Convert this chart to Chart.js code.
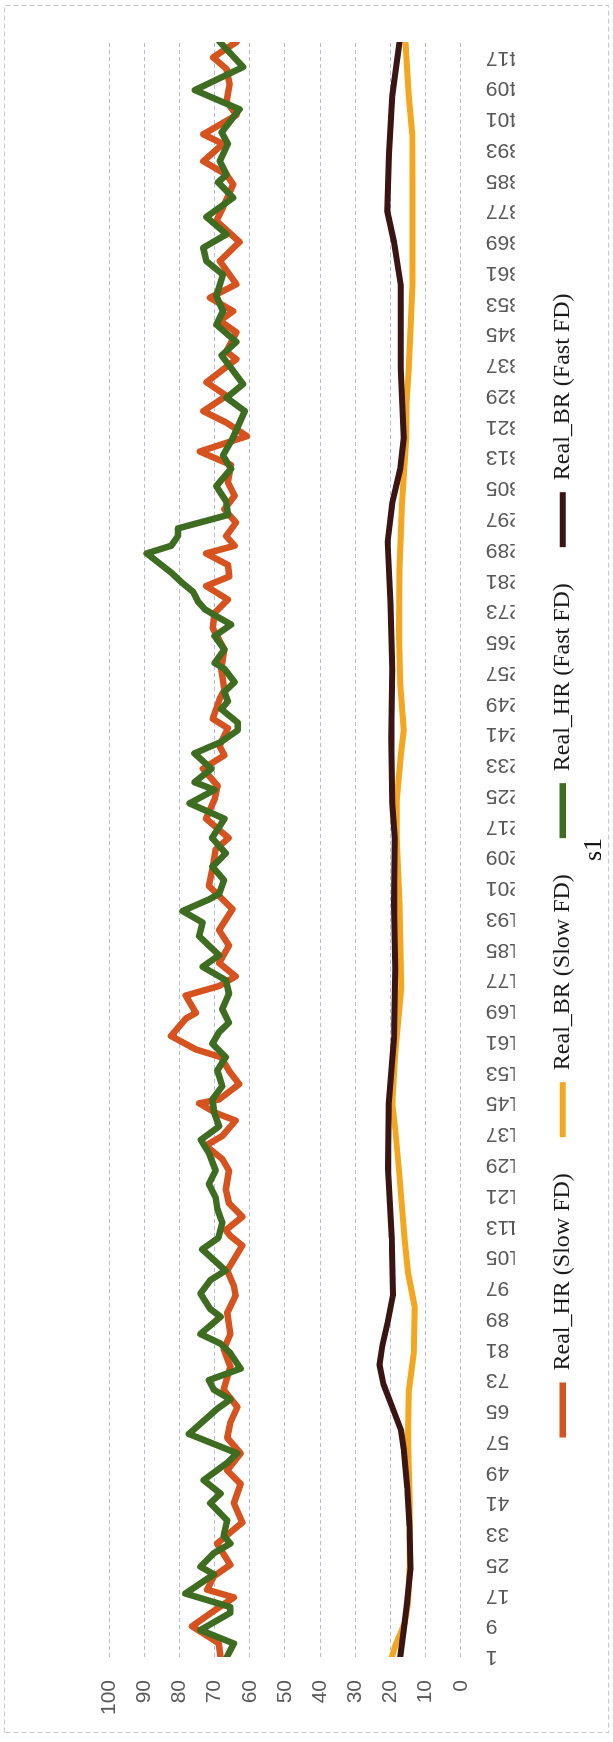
<!DOCTYPE html>
<html>
<head>
<meta charset="utf-8">
<script src="https://cdn.jsdelivr.net/npm/chart.js@4.4.1/dist/chart.umd.min.js"></script>
<style>
  html, body { margin: 0; padding: 0; background: #fff; overflow: hidden; }
  /* the chart is laid out landscape and turned a quarter-turn to stand upright on the page */
  #frame {
    position: absolute; left: 0; top: 0;
    width: 1742px; height: 613px;
    transform-origin: 0 0;
    transform: translate(0, 1742px) rotate(-90deg);
  }
  canvas { display: block; }
</style>
</head>
<body>
<div id="frame"><canvas id="c" width="1742" height="613"></canvas></div>
<script>
// sample index labels shown on the horizontal axis
const tickLabels = [1, 9, 17, 25, 33, 41, 49, 57, 65, 73, 81, 89, 97, 105, 113, 121, 129, 137, 145,
  153, 161, 169, 177, 185, 193, 201, 209, 217, 225, 233, 241, 249, 257, 265, 273, 281, 289, 297,
  305, 313, 321, 329, 337, 345, 353, 361, 369, 377, 385, 393, 401, 409, 417];

const seriesNames = ['Real_HR (Slow FD)', 'Real_BR (Slow FD)', 'Real_HR (Fast FD)', 'Real_BR (Fast FD)'];

// [sample index, value]
const hrSlow = [[1,68.3],[4.5,68.8],[6,71.2],[9,76.4],[13,70.2],[16.5,64.5],[18.5,72.1],[22,70.2],[25,65.5],
  [30.5,69.3],[36,62.1],[41,64.5],[46,62.6],[49.5,66.4],[54,62.6],[58,66.4],[62,65.5],[66,63.5],[70.5,67.4],
  [76.5,65.5],[81,67.4],[85,65.5],[90.5,66.4],[95,64.0],[97.5,64.5],[101.5,66.4],[108,62.1],[110.5,65.5],
  [112,66.8],[115.5,62.1],[119,65.9],[122.5,66.8],[127.5,65.9],[130.5,67.8],[134,72.5],[136.5,67.8],
  [140.5,64.0],[142.5,69.7],[145,74.4],[146,68.7],[150,63.0],[153.5,65.9],[157,68.2],[159,75.3],[162.5,82.4],
  [167,78.2],[168.5,75.3],[173,78.2],[175.5,68.7],[178,64.0],[181.5,68.7],[186,65.9],[190,68.7],[195.5,64.9],
  [201.5,71.6],[206,70.6],[211,69.7],[214,66.0],[219,72.4],[224,70.0],[227.5,69.1],[232,73.3],[235.5,67.2],
  [238,68.6],[242.5,66.2],[245,70.5],[250,68.6],[252.5,67.2],[258,68.1],[263,67.2],[268.5,70.5],[272.5,70.0],
  [276,66.2],[279.5,72.4],[282,65.8],[285,66.2],[288,72.4],[290,64.3],[292.5,66.7],[296,63.9],[299.5,67.2],
  [303,64.3],[306.5,66.2],[311,65.3],[314.5,74.2],[318.5,60.8],[322,66.6],[325,73.2],[329,66.6],[332.5,72.3],
  [338.5,63.8],[340.5,66.6],[345.5,63.8],[348.5,68.5],[351,64.7],[354.5,71.3],[358,63.8],[364,68.5],[369,62.9],
  [374.5,69.5],[378,67.6],[384,64.7],[386.5,66.6],[390,73.2],[394.5,67.6],[397,73.2],[402,63.8],[405.5,66.6],
  [410,65.7],[414,66.6],[417,70.4],[421,63.8]];

const brSlow = [[1,19.6],[4,18.6],[7,17.2],[10,15.9],[15,15.0],[24,14.6],[41,14.5],[58,15.0],[70,14.8],
  [80,13.4],[92,13.1],[101,15.0],[110,16.0],[128,17.6],[138,18.6],[145,19.5],[158,18.6],[175,16.9],[197,17.4],
  [214,18.2],[223,18.3],[236,17.0],[242,16.2],[254,17.2],[267,17.6],[284,17.4],[301,16.7],[318,15.5],
  [327,15.4],[336,14.8],[358,13.7],[384,13.7],[397,13.8],[407,14.8],[421,15.7]];

const hrFast = [[1,66.5],[4.5,64.5],[8,74.0],[12.5,65.5],[14,65.5],[17.5,78.3],[22.5,70.2],[24.5,74.0],
  [28,70.2],[30.5,65.5],[32.5,67.4],[36.5,66.4],[41,71.2],[43.5,68.3],[47,73.1],[51.5,66.4],[54,63.6],
  [59,77.3],[65.5,69.3],[68,65.5],[70.5,70.2],[73,71.6],[76,62.6],[80,65.5],[82.5,68.3],[85,74.0],[89.5,68.3],
  [91.5,71.2],[95.5,74.0],[99,71.2],[101.5,66.9],[107,73.5],[110,68.9],[114,67.8],[117.5,69.2],[120.5,69.7],
  [124,71.6],[127.5,69.7],[132,71.6],[135.5,73.9],[139,68.7],[142.5,70.1],[146,70.6],[149.5,67.8],
  [153.5,69.2],[157,66.8],[160.5,70.6],[163.5,68.7],[166,65.9],[169.5,67.8],[173.5,65.9],[177,66.8],
  [180.5,73.4],[183.5,68.7],[186,71.6],[188.5,74.4],[192,73.4],[195,79.1],[198,71.6],[199.5,68.7],[203,67.3],
  [206.5,70.6],[210,66.8],[214,70.7],[219,67.2],[223,77.1],[226.5,70.0],[228.5,75.7],[232,70.9],[236,75.7],
  [239,68.1],[242,63.4],[244,63.4],[247.5,68.1],[249.5,66.2],[252,67.2],[254.5,64.3],[258,67.2],[259.5,70.0],
  [263,67.2],[266.5,70.0],[269.5,65.3],[271.5,69.1],[273.5,72.8],[275.5,74.7],[278,76.1],[280.5,79.4],
  [283,82.3],[288,89.3],[290,82.3],[292.5,80.4],[294.5,80.4],[298,66.2],[301.5,66.7],[305.5,69.5],[310,65.3],
  [313.5,67.6],[318,64.8],[325,61.4],[328.5,66.6],[332,61.9],[339.5,68.0],[343,63.8],[347.5,69.5],[351,67.6],
  [355,69.5],[360.5,67.6],[364,72.3],[367.5,73.2],[371,66.6],[375.5,72.3],[380.5,64.7],[384.5,69.0],
  [386.5,66.6],[390,68.5],[394.5,66.2],[397.5,68.0],[403.5,62.9],[408.5,75.6],[414.5,61.9],[421,68.5]];

const brFast = [[1,17.2],[8,16.2],[15,15.3],[24,14.3],[35,14.6],[45,15.2],[55,16.2],[60,17.0],[66,19.5],
  [72,22.0],[77,23.1],[82,22.3],[88,20.8],[95,19.3],[110,19.6],[128,20.7],[145,20.5],[162,19.0],[180,18.6],
  [197,19.0],[214,18.8],[223,19.5],[240,19.8],[258,19.5],[275,20.0],[291,20.8],[301,19.5],[310,17.2],
  [318,16.2],[336,17.1],[358,17.1],[369,19.0],[377,20.9],[392,20.4],[407,19.5],[421,17.4]];

const seriesColors = ['#d6521e', '#f4a71e', '#3e6c20', '#3a1511'];
const seriesWidths = [6.5, 6, 6.5, 6];
const seriesData = [hrSlow, brSlow, hrFast, brFast];
// later series are painted over earlier ones
const drawOrder = [4, 3, 2, 1];

const toPoints = arr => arr.map(([x, y]) => ({ x, y }));

const axisFont = { family: 'Liberation Sans, Arial, sans-serif', size: 21 };
const serifFont = 'Liberation Serif, Times New Roman, serif';

// dotted frame around the whole chart
const frameBorder = {
  id: 'frameBorder',
  beforeDraw(chart) {
    const ctx = chart.ctx;
    ctx.save();
    ctx.strokeStyle = '#c6c6c6';
    ctx.lineWidth = 1;
    ctx.setLineDash([5, 3]);
    ctx.strokeRect(9.5, 4.5, 1727, 604);
    ctx.restore();
  }
};

// legend row: fixed height so the title sits just beneath it, nudged slightly toward the start
const legendPlacement = {
  id: 'legendPlacement',
  beforeInit(chart) {
    const fit = chart.legend.fit;
    chart.legend.fit = function () { fit.call(this); this.height = 64; };
  },
  afterLayout(chart) {
    chart.legend.left -= 16;
    chart.legend.right -= 16;
  }
};

new Chart(document.getElementById('c'), {
  type: 'line',
  data: {
    datasets: seriesNames.map((name, i) => ({
      label: name,
      data: toPoints(seriesData[i]),
      borderColor: seriesColors[i],
      backgroundColor: seriesColors[i],
      borderWidth: seriesWidths[i],
      order: drawOrder[i],
      fill: false
    }))
  },
  options: {
    responsive: false,
    animation: false,
    layout: { padding: { top: 109, right: 42, bottom: 3, left: 0 } },
    elements: {
      point: { radius: 0 },
      line: { tension: 0, borderJoinStyle: 'round', borderCapStyle: 'round' }
    },
    scales: {
      x: {
        type: 'linear', min: 1, max: 421, offset: false,
        afterBuildTicks: s => { s.ticks = tickLabels.map(v => ({ value: v })); },
        afterFit: s => { s.height = 54; },
        grid: { display: false },
        border: { display: false },
        ticks: { autoSkip: false, minRotation: 90, maxRotation: 90, padding: 17, color: '#595959', font: axisFont }
      },
      y: {
        min: 0, max: 100,
        afterFit: s => { s.width = 85; },
        grid: { color: '#b9b9dc', lineWidth: 1, drawTicks: false },
        border: { display: false, dash: [4, 3] },
        ticks: { stepSize: 10, padding: 23, color: '#595959', font: axisFont }
      }
    },
    plugins: {
      legend: {
        position: 'bottom', fullSize: false,
        labels: {
          usePointStyle: true, pointStyle: 'line', pointStyleWidth: 55, boxHeight: 7,
          padding: 36, color: '#1a1a1a',
          font: { family: serifFont, size: 24 },
          sort: (a, b) => a.datasetIndex - b.datasetIndex
        }
      },
      title: {
        display: true, text: 's1', position: 'bottom', fullSize: false,
        padding: { top: 0, bottom: 0 }, color: '#111',
        font: { family: serifFont, size: 26, weight: 'normal' }
      },
      tooltip: { enabled: false }
    }
  },
  plugins: [frameBorder, legendPlacement]
});
</script>
</body>
</html>
